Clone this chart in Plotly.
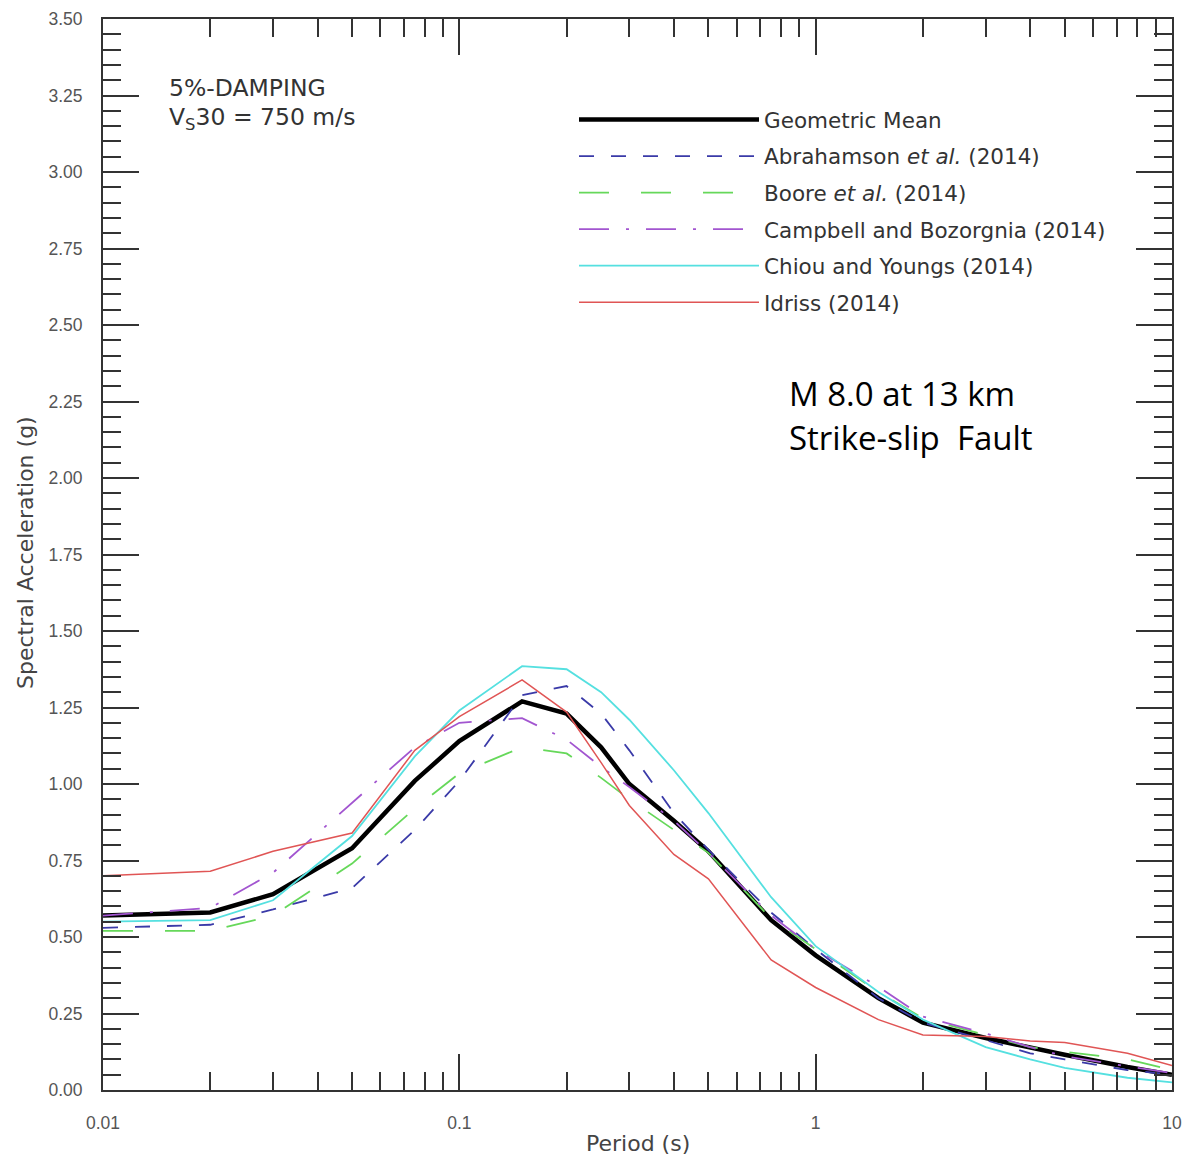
import plotly.graph_objects as go

period = [0.01, 0.02, 0.03, 0.05, 0.075, 0.1, 0.15, 0.2, 0.25, 0.3, 0.4, 0.5,
          0.75, 1.0, 1.5, 2.0, 3.0, 4.0, 5.0, 7.5, 10.0]

geo_mean = [0.57, 0.58, 0.64, 0.79, 1.01, 1.14, 1.27, 1.23, 1.12, 1.00, 0.88, 0.78,
            0.555, 0.44, 0.30, 0.22, 0.17, 0.137, 0.115, 0.075, 0.05]
abrahamson = [0.53, 0.54, 0.59, 0.66, 0.85, 1.01, 1.29, 1.32, 1.23, 1.11, 0.905, 0.785,
              0.58, 0.46, 0.30, 0.22, 0.163, 0.12, 0.10, 0.065, 0.05]
boore = [0.52, 0.52, 0.57, 0.74, 0.92, 1.035, 1.12, 1.10, 1.02, 0.95, 0.85, 0.775,
         0.56, 0.46, 0.32, 0.235, 0.18, 0.14, 0.125, 0.10, 0.065]
campbell = [0.57, 0.595, 0.71, 0.94, 1.12, 1.20, 1.215, 1.145, 1.056, 0.99, 0.88, 0.775,
            0.57, 0.46, 0.337, 0.24, 0.185, 0.14, 0.11, 0.077, 0.055]
chiou = [0.55, 0.555, 0.62, 0.83, 1.09, 1.24, 1.385, 1.375, 1.30, 1.21, 1.045, 0.905,
         0.63, 0.47, 0.32, 0.23, 0.14, 0.10, 0.072, 0.04, 0.025]
idriss = [0.70, 0.715, 0.78, 0.84, 1.11, 1.22, 1.34, 1.235, 1.07, 0.93, 0.77, 0.69,
          0.425, 0.335, 0.23, 0.18, 0.175, 0.16, 0.155, 0.12, 0.08]

y_ticks = [0.00, 0.25, 0.50, 0.75, 1.00, 1.25, 1.50, 1.75, 2.00, 2.25, 2.50, 2.75,
           3.00, 3.25, 3.50]
x_ticks = [0.01, 0.1, 1, 10]
x_tick_text = ["0.01", "0.1", "1", "10"]

series = [
    ("Geometric Mean", geo_mean, "#000000", 4.5, "solid"),
    ("Abrahamson <i>et al.</i> (2014)", abrahamson, "#3a3aa8", 1.8, "15px,17px"),
    ("Boore <i>et al.</i> (2014)", boore, "#66d85a", 1.8, "30px,32px"),
    ("Campbell and Bozorgnia (2014)", campbell, "#a255d0", 1.8, "30px,17px,3px,17px"),
    ("Chiou and Youngs (2014)", chiou, "#55e0e0", 1.8, "solid"),
    ("Idriss (2014)", idriss, "#e05555", 1.5, "solid"),
]

fig = go.Figure()
for i, (name, vals, color, width, dash) in enumerate(series):
    fig.add_trace(go.Scatter(
        x=period, y=vals, mode="lines", name=name,
        legendgroup=f"g{i}",
        line=dict(color=color, width=width, dash=dash),
    ))

FONT = "DejaVu Sans, Arial, sans-serif"
TICKFONT = "Liberation Sans, Arial, sans-serif"
axis_font = dict(family=TICKFONT, size=17.5, color="#555555")

# page offset of the figure is 8 px (body margin)
PLOT_TOP, PLOT_H = 19, 1071


def py(page_y):
    return 1 - (page_y - PLOT_TOP) / PLOT_H


fig.update_layout(
    width=1182, height=1152,
    margin=dict(l=95, r=18, t=11, b=70),
    paper_bgcolor="white", plot_bgcolor="white",
    showlegend=True,
    legend=dict(
        x=0.4406, y=py(99), xanchor="left", yanchor="top",
        bgcolor="rgba(0,0,0,0)",
        font=dict(family=FONT, size=21.5, color="#333333"),
        itemwidth=180, tracegroupgap=5.6,
    ),
    xaxis=dict(
        type="log", range=[-2, 1], automargin=False,
        tickvals=x_ticks, ticktext=x_tick_text,
        ticks="inside", ticklen=36, tickwidth=2, tickcolor="#333333",
        ticklabelstandoff=16,
        showline=True, linecolor="#333333", linewidth=2, mirror="allticks",
        showgrid=False, zeroline=False,
        tickfont=axis_font,
        minor=dict(dtick="D1", ticks="inside", ticklen=18, tickwidth=2,
                   tickcolor="#333333", showgrid=False),
    ),
    yaxis=dict(
        range=[0, 3.5], automargin=False,
        tickvals=y_ticks, ticktext=[f"{v:.2f}" for v in y_ticks],
        ticks="inside", ticklen=36, tickwidth=2, tickcolor="#333333",
        ticklabelstandoff=15,
        showline=True, linecolor="#333333", linewidth=2, mirror="allticks",
        showgrid=False, zeroline=False,
        tickfont=axis_font,
        minor=dict(dtick=0.05, ticks="inside", ticklen=18, tickwidth=2,
                   tickcolor="#333333", showgrid=False),
    ),
    annotations=[
        dict(text="Period (s)", xref="paper", yref="paper", x=0.5, y=py(1143),
             xanchor="center", yanchor="middle", showarrow=False,
             font=dict(family=FONT, size=22, color="#444444")),
        dict(text="Spectral Acceleration (g)", xref="paper", yref="paper",
             x=-0.073, y=py(552), xanchor="center", yanchor="middle", textangle=-90,
             showarrow=False,
             font=dict(family=FONT, size=22, color="#444444")),
        dict(text="5%-DAMPING", xref="paper", yref="paper",
             x=0.0598, y=py(88), xanchor="left", yanchor="middle", align="left",
             showarrow=False,
             font=dict(family=FONT, size=23.5, color="#333333")),
        dict(text="V<sub>S</sub>30 = 750 m/s", xref="paper", yref="paper",
             x=0.0598, y=py(118), xanchor="left", yanchor="middle", align="left",
             showarrow=False,
             font=dict(family=FONT, size=23.5, color="#333333")),
        dict(text="M 8.0 at 13 km", xref="paper", yref="paper",
             x=0.6398, y=py(393), xanchor="left", yanchor="middle",
             align="left", showarrow=False,
             font=dict(family="Open Sans, sans-serif", size=33, color="#000000")),
        dict(text="Strike-slip  Fault", xref="paper", yref="paper",
             x=0.6398, y=py(438), xanchor="left", yanchor="middle",
             align="left", showarrow=False,
             font=dict(family="Open Sans, sans-serif", size=33, color="#000000")),
    ],
)

fig.write_html("out.html")
